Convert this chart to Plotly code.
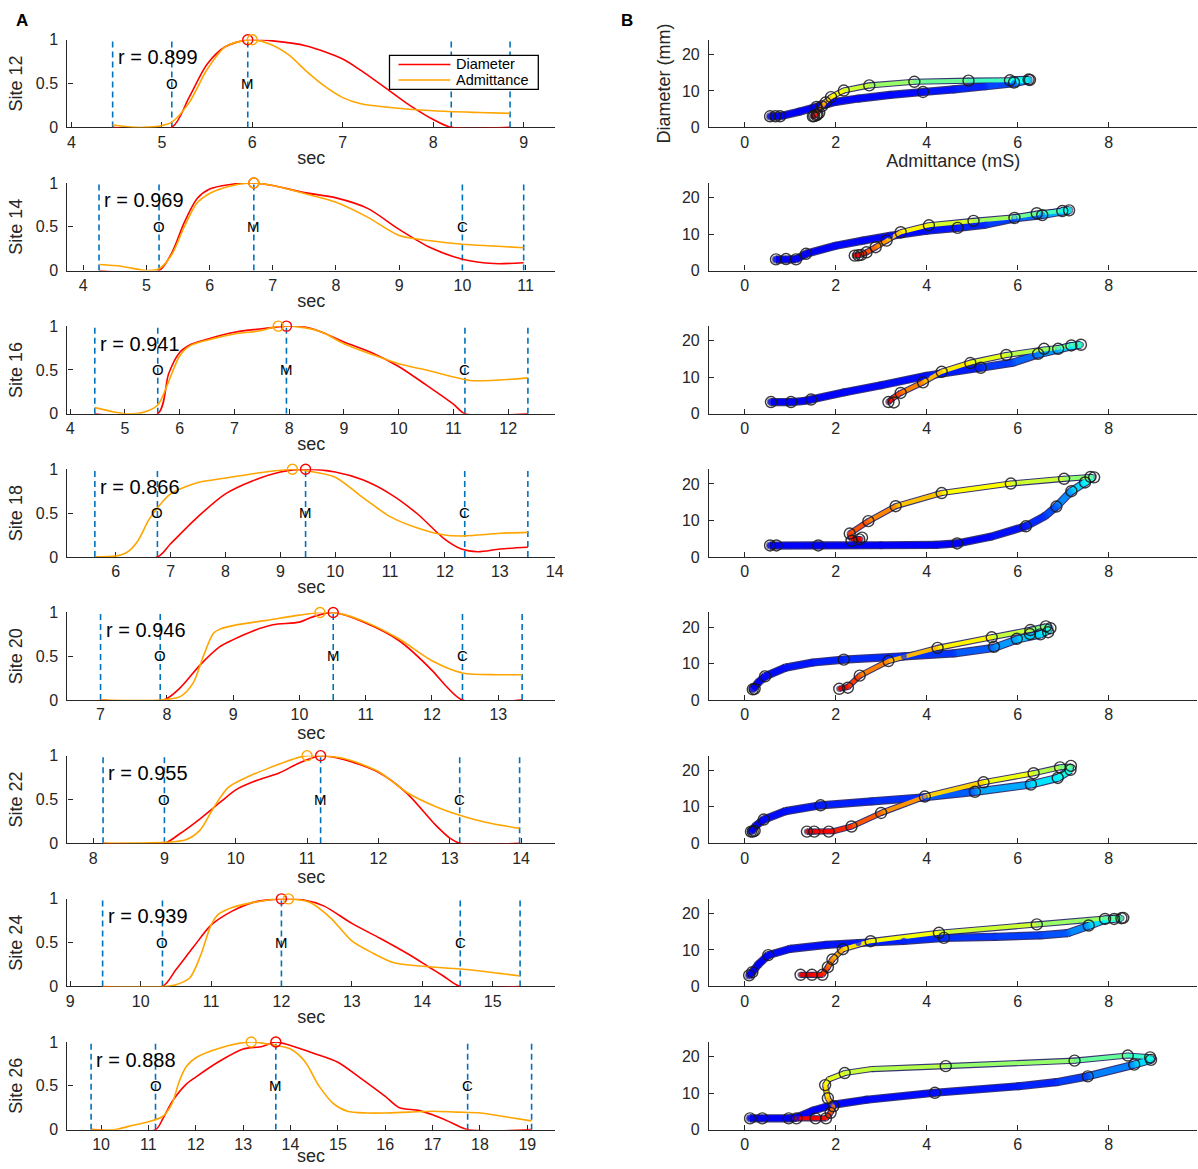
"""Diameter / admittance traces per site (A) and diameter-admittance loops (B)."""

import plotly.graph_objects as go
from plotly.colors import sample_colorscale

# the captured picture is a slightly larger page area squeezed into 1198 x 1169,
# so the figure is a little bigger and positions are mapped through this transform
W, H = 1206, 1186
SHOT_X0, SHOT_KX = 1.0, 0.993
SHOT_Y0, SHOT_KY = 7.5, 0.9865
FONT = "Liberation Sans, Arial, sans-serif"
INK = "#262626"
RED = "#ff0000"
ORANGE = "#ffa500"
EVENT_BLUE = "#0072bd"
JET = [[0.0, "rgb(0,0,143)"], [0.125, "rgb(0,0,255)"], [0.375, "rgb(0,255,255)"],
       [0.625, "rgb(255,255,0)"], [0.875, "rgb(255,0,0)"], [1.0, "rgb(128,0,0)"]]

SITES = [12, 14, 16, 18, 20, 22, 24, 26]
R_VALUES = [0.899, 0.969, 0.941, 0.866, 0.946, 0.955, 0.939, 0.888]

# event markers (sec): start, O, M, C, end
EVENTS = {
    12: [4.456, 5.11, 5.95, 8.20, 8.85],
    14: [4.25, 5.20, 6.70, 10.0, 10.97],
    16: [4.45, 5.60, 7.95, 11.21, 12.36],
    18: [5.62, 6.76, 9.46, 12.36, 13.51],
    20: [7.00, 7.90, 10.51, 12.46, 13.36],
    22: [8.14, 9.00, 11.19, 13.14, 13.98],
    24: [9.46, 10.31, 12.00, 14.54, 15.39],
    26: [9.79, 11.15, 13.69, 17.74, 19.09],
}
EVENT_TAGS = {s: ["", "O", "M", "C", ""] for s in SITES}
EVENT_TAGS[12] = ["", "O", "M", "", ""]  # C sits under the legend

# normalised diameter
DIA_T = {
    12: [4.456, 5.11, 5.3, 5.5, 5.7, 5.95, 6.2, 6.6, 7.0, 7.2, 7.5, 7.7, 8.0, 8.2, 8.85],
    14: [4.25, 5.2, 5.4, 5.6, 5.8, 6.0, 6.3, 6.7, 7.0, 7.5, 8.0, 8.5, 9.0, 9.5, 10.0, 10.5, 10.97],
    16: [4.45, 5.6, 5.8, 6.0, 6.2, 6.5, 7.0, 7.5, 7.95, 8.3, 8.6, 9.0, 9.5, 10.0, 10.5, 11.0, 11.21, 12.36],
    18: [5.62, 6.76, 7.0, 7.5, 8.0, 8.5, 9.0, 9.46, 10.0, 10.5, 11.0, 11.5, 12.0, 12.3, 12.6, 13.0, 13.51],
    20: [7.0, 7.95, 8.2, 8.5, 8.8, 9.0, 9.3, 9.6, 10.0, 10.2, 10.51, 11.0, 11.5, 12.0, 12.2, 12.46, 13.36],
    22: [8.14, 9.0, 9.2, 9.5, 9.8, 10.0, 10.3, 10.6, 10.9, 11.19, 11.5, 12.0, 12.4, 12.8, 13.0, 13.14, 13.98],
    24: [9.46, 10.31, 10.5, 10.75, 11.0, 11.3, 11.6, 12.0, 12.3, 12.6, 13.0, 13.4, 13.8, 14.1, 14.3, 14.54, 15.39],
    26: [9.79, 11.15, 11.3, 11.5, 11.8, 12.0, 12.5, 13.0, 13.4, 13.69, 14.0, 14.5, 15.0, 15.5, 16.0, 16.3,
         16.7, 17.0, 17.4, 17.74, 19.09],
}
DIA_V = {
    12: [0, 0, 0.34, 0.72, 0.92, 1.0, 0.99, 0.93, 0.78, 0.65, 0.43, 0.28, 0.09, 0, 0],
    14: [0, 0, 0.2, 0.55, 0.82, 0.93, 0.98, 1.0, 0.97, 0.89, 0.83, 0.71, 0.47, 0.26, 0.13, 0.08, 0.09],
    16: [0, 0, 0.46, 0.70, 0.79, 0.85, 0.93, 0.97, 1.0, 0.99, 0.93, 0.82, 0.70, 0.54, 0.33, 0.11, 0, 0],
    18: [0, 0, 0.15, 0.46, 0.72, 0.87, 0.97, 1.0, 0.97, 0.88, 0.72, 0.49, 0.20, 0.09, 0.06, 0.09, 0.11],
    20: [0, 0, 0.14, 0.40, 0.61, 0.69, 0.79, 0.86, 0.89, 0.95, 1.0, 0.88, 0.68, 0.34, 0.17, 0, 0],
    22: [0, 0, 0.1, 0.28, 0.48, 0.61, 0.72, 0.80, 0.92, 1.0, 0.96, 0.81, 0.57, 0.21, 0.06, 0, 0],
    24: [0, 0, 0.19, 0.45, 0.70, 0.86, 0.96, 1.0, 0.99, 0.92, 0.72, 0.55, 0.37, 0.22, 0.12, 0, 0],
    26: [0, 0, 0.12, 0.32, 0.52, 0.60, 0.78, 0.92, 0.95, 1.0, 0.96, 0.87, 0.77, 0.58, 0.38, 0.25,
         0.22, 0.17, 0.08, 0, 0],
}

# normalised admittance
ADM_T = {
    12: [4.456, 4.6, 4.8, 5.0, 5.11, 5.3, 5.5, 5.7, 5.9, 6.0, 6.2, 6.4, 6.6, 6.8, 7.0, 7.2, 7.5, 8.0, 8.5, 8.85],
    14: [4.25, 4.6, 5.0, 5.2, 5.4, 5.6, 5.8, 6.0, 6.3, 6.7, 7.0, 7.5, 8.0, 8.5, 9.0, 9.5, 10.0, 10.5, 10.97],
    16: [4.45, 4.8, 5.0, 5.3, 5.6, 5.8, 6.0, 6.2, 6.5, 7.0, 7.5, 7.8, 8.3, 8.6, 9.0, 9.5, 10.0, 10.5,
         11.0, 11.3, 11.7, 12.36],
    18: [5.62, 6.0, 6.2, 6.4, 6.6, 6.76, 7.0, 7.5, 8.0, 8.5, 9.0, 9.22, 9.5, 10.0, 10.5, 11.0, 11.5,
         12.0, 12.36, 13.0, 13.51],
    20: [7.0, 7.9, 8.2, 8.4, 8.55, 8.7, 8.8, 9.0, 9.5, 10.0, 10.31, 10.6, 11.0, 11.5, 12.0, 12.46, 13.0, 13.36],
    22: [8.14, 9.0, 9.3, 9.5, 9.7, 9.9, 10.2, 10.5, 10.8, 11.0, 11.5, 12.0, 12.4, 12.8, 13.14, 13.5, 13.98],
    24: [9.46, 10.31, 10.5, 10.7, 10.85, 11.0, 11.1, 11.3, 11.6, 12.1, 12.4, 12.7, 13.0, 13.3, 13.6,
         14.0, 14.54, 15.0, 15.39],
    26: [9.79, 10.3, 10.6, 11.0, 11.3, 11.5, 11.65, 11.8, 12.0, 12.5, 13.17, 13.7, 14.0, 14.3, 14.6, 14.9,
         15.2, 15.6, 16.0, 16.5, 17.0, 17.5, 18.0, 18.5, 19.09],
}
ADM_V = {
    12: [0.03, 0.01, 0.0, 0.02, 0.06, 0.28, 0.66, 0.92, 0.99, 1.0, 0.95, 0.83, 0.64, 0.47, 0.34, 0.27,
         0.23, 0.19, 0.17, 0.16],
    14: [0.07, 0.05, 0.0, 0.02, 0.18, 0.5, 0.77, 0.88, 0.96, 1.0, 0.97, 0.88, 0.78, 0.61, 0.40, 0.34,
         0.30, 0.28, 0.26],
    16: [0.07, 0.02, 0.0, 0.01, 0.1, 0.37, 0.66, 0.78, 0.84, 0.91, 0.95, 1.0, 0.98, 0.93, 0.80, 0.68,
         0.57, 0.50, 0.42, 0.38, 0.38, 0.41],
    18: [0, 0.01, 0.05, 0.18, 0.42, 0.56, 0.72, 0.85, 0.90, 0.95, 0.99, 1.0, 0.98, 0.91, 0.68, 0.46,
         0.33, 0.25, 0.24, 0.27, 0.28],
    20: [0, 0.0, 0.04, 0.2, 0.5, 0.76, 0.81, 0.85, 0.91, 0.97, 1.0, 0.99, 0.89, 0.70, 0.45, 0.31, 0.29, 0.29],
    22: [0, 0.01, 0.04, 0.15, 0.42, 0.64, 0.77, 0.87, 0.96, 1.0, 0.97, 0.82, 0.58, 0.42, 0.32, 0.24, 0.17],
    24: [0, 0, 0.02, 0.1, 0.35, 0.7, 0.82, 0.9, 0.96, 1.0, 0.96, 0.78, 0.52, 0.38, 0.27, 0.23, 0.20,
         0.16, 0.12],
    26: [0, 0.0, 0.04, 0.09, 0.15, 0.30, 0.55, 0.72, 0.82, 0.93, 1.0, 0.96, 0.92, 0.78, 0.5, 0.3, 0.21,
         0.19, 0.19, 0.2, 0.21, 0.2, 0.19, 0.15, 0.1],
}

# loop path in B: admittance (mS), diameter (mm), colour position (0..1 on jet)
LOOP_ADM = {
    12: [0.56, 0.8, 1.2, 1.58, 2.0, 2.5, 3.2, 3.92, 4.6, 5.3, 5.92, 6.24,
         5.83, 4.92, 3.73, 2.74, 2.18, 1.9, 1.77, 1.68, 1.6, 1.55, 1.5],
    14: [0.69, 1.13, 1.35, 2.0, 2.6, 3.2, 4.0, 4.68, 5.3, 5.93, 6.54, 6.98, 7.13,
         6.96, 6.42, 5.93, 5.03, 4.05, 3.43, 3.12, 2.88, 2.68, 2.54, 2.42],
    16: [0.58, 1.02, 1.3, 1.46, 2.2, 3.0, 4.0, 5.19, 5.9, 6.45, 6.89, 7.18, 7.39,
         7.2, 6.89, 6.58, 5.75, 4.96, 4.33, 3.92, 3.43, 3.25, 3.16],
    18: [0.56, 1.62, 3.0, 4.2, 4.67, 5.4, 6.18, 6.6, 6.85, 7.18, 7.48, 7.65,
         7.6, 7.02, 5.85, 4.33, 3.32, 2.72, 2.31, 2.35, 2.55, 2.5],
    20: [0.18, 0.3, 0.45, 0.9, 1.5, 2.18, 3.5, 4.6, 5.48, 5.98, 6.5, 6.7, 6.72,
         6.62, 6.3, 5.43, 4.24, 3.16, 2.53, 2.27, 2.08],
    22: [0.14, 0.25, 0.42, 0.9, 1.67, 2.8, 3.96, 5.06, 6.29, 6.88, 7.16, 7.17,
         6.93, 6.35, 5.25, 3.96, 3.0, 2.35, 1.95, 1.53, 1.37],
    24: [0.1, 0.17, 0.3, 0.52, 1.0, 1.8, 2.5, 3.5, 4.38, 5.5, 6.5, 7.1, 7.56, 7.92, 8.28,
         7.92, 6.42, 4.27, 2.77, 2.16, 1.93, 1.83, 1.71, 1.48, 1.23],
    26: [0.12, 0.97, 1.14, 1.5, 1.93, 2.68, 4.18, 6.02, 6.85, 7.54, 8.56, 8.93,
         8.91, 8.42, 7.25, 4.42, 2.8, 2.2, 1.85, 1.77, 1.83, 1.95, 1.89, 1.79, 1.56, 1.1],
}
LOOP_DIA = {
    12: [3.0, 3.1, 4.3, 5.6, 7.0, 7.9, 8.9, 9.7, 10.4, 11.3, 12.1, 13.0,
         12.9, 12.8, 12.5, 11.5, 10.1, 8.3, 6.8, 5.4, 4.2, 3.3, 3.05],
    14: [3.0, 3.1, 4.6, 6.8, 8.2, 9.5, 10.9, 11.7, 12.6, 14.3, 15.2, 16.2, 16.5,
         16.3, 15.6, 14.6, 13.6, 12.4, 10.5, 8.2, 6.4, 5.0, 4.3, 4.1],
    16: [3.2, 3.2, 3.5, 3.9, 5.9, 7.8, 10.4, 12.6, 14.0, 16.3, 17.6, 18.5, 18.9,
         18.8, 18.0, 17.6, 16.1, 14.0, 11.5, 8.6, 5.7, 4.2, 3.2],
    18: [3.1, 3.15, 3.2, 3.3, 3.7, 5.5, 8.4, 11.2, 13.8, 18.0, 20.4, 21.9,
         21.9, 21.4, 20.1, 17.5, 13.9, 9.8, 6.4, 5.0, 4.9, 4.5],
    20: [3.0, 4.8, 6.5, 8.9, 10.3, 11.1, 12.0, 12.8, 14.3, 16.6, 18.0, 19.2, 19.8,
         20.2, 19.3, 17.2, 14.3, 10.7, 6.7, 3.6, 3.1],
    22: [3.2, 4.8, 6.5, 8.8, 10.4, 11.5, 12.6, 14.1, 16.1, 17.9, 20.1, 21.0,
         20.8, 19.2, 16.7, 12.8, 8.3, 4.6, 3.3, 3.2, 3.2],
    24: [3.0, 3.9, 6.0, 8.6, 10.3, 11.4, 11.9, 12.5, 13.3, 13.6, 14.0, 14.6, 16.6, 18.3, 18.7,
         18.6, 17.0, 14.7, 12.4, 10.2, 7.4, 5.3, 3.2, 3.2, 3.2],
    26: [3.1, 3.1, 3.3, 5.2, 6.8, 8.2, 10.1, 11.9, 13.0, 14.6, 17.8, 19.1,
         19.8, 20.3, 18.9, 17.4, 16.6, 15.5, 13.8, 12.2, 8.6, 6.4, 4.6, 3.1, 3.1, 3.1],
}
LOOP_COL = {
    12: [0.12, 0.12, 0.12, 0.13, 0.13, 0.13, 0.13, 0.14, 0.15, 0.17, 0.22, 0.35,
         0.42, 0.46, 0.50, 0.55, 0.60, 0.65, 0.70, 0.75, 0.80, 0.86, 0.90],
    14: [0.12, 0.12, 0.12, 0.13, 0.13, 0.13, 0.14, 0.15, 0.17, 0.20, 0.26, 0.33, 0.38,
         0.42, 0.46, 0.50, 0.56, 0.61, 0.66, 0.71, 0.76, 0.81, 0.86, 0.90],
    16: [0.12, 0.12, 0.12, 0.12, 0.13, 0.13, 0.14, 0.16, 0.20, 0.25, 0.30, 0.36, 0.42,
         0.46, 0.50, 0.53, 0.58, 0.62, 0.67, 0.72, 0.78, 0.84, 0.90],
    18: [0.12, 0.12, 0.12, 0.12, 0.12, 0.13, 0.15, 0.18, 0.22, 0.30, 0.38, 0.45,
         0.48, 0.55, 0.60, 0.65, 0.72, 0.77, 0.82, 0.86, 0.88, 0.90],
    20: [0.12, 0.12, 0.13, 0.14, 0.15, 0.16, 0.17, 0.18, 0.25, 0.30, 0.35, 0.40, 0.43,
         0.47, 0.53, 0.60, 0.67, 0.72, 0.78, 0.85, 0.90],
    22: [0.12, 0.12, 0.13, 0.14, 0.15, 0.16, 0.18, 0.25, 0.33, 0.37, 0.42, 0.46,
         0.52, 0.58, 0.64, 0.70, 0.76, 0.82, 0.86, 0.88, 0.90],
    24: [0.12, 0.12, 0.12, 0.13, 0.14, 0.14, 0.15, 0.16, 0.17, 0.18, 0.19, 0.22, 0.30, 0.38, 0.45,
         0.50, 0.55, 0.60, 0.63, 0.68, 0.73, 0.78, 0.85, 0.88, 0.90],
    26: [0.12, 0.12, 0.12, 0.12, 0.13, 0.13, 0.14, 0.15, 0.17, 0.20, 0.30, 0.38,
         0.40, 0.45, 0.50, 0.54, 0.56, 0.58, 0.61, 0.63, 0.68, 0.74, 0.80, 0.86, 0.88, 0.90],
}

# sampled frames drawn as open rings on the loops
RING_ADM = {
    12: [0.56, 0.68, 0.78, 1.5, 1.53, 1.58, 1.6, 1.64, 1.58, 1.7, 1.78, 1.9, 2.18, 2.74, 3.73, 3.92,
         4.92, 5.83, 5.92, 6.24, 6.27],
    14: [0.69, 0.91, 1.13, 1.35, 2.42, 2.5, 2.56, 2.68, 2.88, 3.12, 3.43, 4.05, 4.68, 5.03, 5.93,
         6.42, 6.54, 6.98, 7.13],
    16: [0.58, 1.02, 1.46, 3.16, 3.28, 3.43, 3.92, 4.33, 4.96, 5.19, 5.75, 6.45, 6.58, 6.89, 7.18, 7.39],
    18: [0.56, 0.7, 1.62, 4.67, 6.18, 6.85, 7.18, 7.48, 7.6, 7.68, 7.02, 5.85, 4.33, 3.32, 2.72,
         2.31, 2.35, 2.52, 2.58],
    20: [0.18, 0.22, 0.45, 2.08, 2.27, 2.18, 2.53, 3.16, 4.24, 5.43, 5.48, 5.98, 6.27, 6.28, 6.5,
         6.62, 6.67, 6.72],
    22: [0.14, 0.18, 0.22, 0.42, 1.37, 1.53, 1.85, 1.67, 2.35, 3.0, 3.96, 5.06, 5.25, 6.29, 6.35,
         6.88, 6.93, 7.16, 7.17],
    24: [0.1, 0.17, 0.52, 1.23, 1.48, 1.71, 1.83, 1.93, 2.16, 2.77, 4.27, 4.38, 6.42, 7.56, 7.92,
         8.12, 8.28, 8.32],
    26: [0.12, 0.39, 0.97, 1.14, 1.56, 1.79, 1.89, 1.95, 1.83, 1.77, 2.2, 4.18, 4.42, 7.25, 7.54,
         8.42, 8.56, 8.91, 8.93],
}
RING_DIA = {
    12: [3.05, 3.05, 3.05, 3.05, 3.1, 3.3, 3.6, 4.0, 5.6, 5.8, 6.8, 8.3, 10.1, 11.5, 12.5, 9.7,
         12.8, 12.9, 12.3, 13.1, 13.0],
    14: [3.06, 3.15, 3.06, 4.6, 4.1, 4.2, 4.3, 5.0, 6.4, 8.2, 10.5, 12.4, 11.7, 13.6, 14.4,
         15.7, 15.2, 16.3, 16.5],
    16: [3.2, 3.2, 3.9, 3.2, 3.1, 5.7, 8.6, 11.5, 13.9, 12.6, 16.1, 16.4, 17.8, 17.8, 18.7, 18.9],
    18: [3.15, 3.15, 3.15, 3.7, 8.4, 13.8, 18.0, 20.4, 21.9, 21.8, 21.4, 20.1, 17.5, 13.9, 9.8,
         6.4, 4.4, 4.8, 5.3],
    20: [2.97, 3.05, 6.5, 3.1, 3.4, 11.1, 6.7, 10.7, 14.3, 17.2, 14.6, 16.8, 18.1, 19.2, 18.0,
         20.2, 18.6, 19.7],
    22: [3.2, 3.2, 3.4, 6.5, 3.2, 3.2, 3.2, 10.4, 4.6, 8.3, 12.8, 14.1, 16.7, 16.1, 19.2,
         17.9, 20.8, 20.1, 21.2],
    24: [3.05, 3.9, 8.6, 3.2, 3.2, 3.2, 5.3, 7.4, 10.2, 12.4, 14.7, 13.3, 17.0, 16.7, 18.5,
         18.5, 18.7, 18.8],
    26: [3.1, 3.1, 3.1, 3.1, 3.1, 3.1, 4.6, 6.4, 8.6, 12.2, 15.5, 10.1, 17.4, 18.9, 14.6,
         20.3, 17.8, 19.8, 19.1],
}

# geometry, in pixels of the target picture
ROW_TOP0, ROW_BOT0, ROW_STEP = 39.3, 127.0, 143.3
LEFT_PX = (66.5, 555)
RIGHT_PX = (709, 1198)
ADM_RANGE = [-0.78, 9.95]
DIA_RANGE = [0, 24]


def fx(p):
    return (p - SHOT_X0) / SHOT_KX / W


def fy(p):
    return 1 - (p - SHOT_Y0) / SHOT_KY / H


def jet(c):
    return sample_colorscale(JET, [c])[0]


def base_axis(**extra):
    ax = dict(showline=True, linecolor=INK, linewidth=1.3, ticks="inside", ticklen=5, tickwidth=1.1,
              tickcolor=INK, showgrid=False, zeroline=False, layer="below traces",
              tickfont=dict(family=FONT, size=16, color=INK))
    ax.update(extra)
    return ax


def title(text, standoff):
    return dict(text=text, standoff=standoff, font=dict(family=FONT, size=18, color=INK))


fig = go.Figure()
layout = dict(width=W, height=H, margin=dict(l=0, r=0, t=0, b=0), paper_bgcolor="white",
              plot_bgcolor="white", showlegend=False, font=dict(family=FONT, size=15, color=INK))
annotations = []
shapes = []

for i, site in enumerate(SITES):
    top = ROW_TOP0 + ROW_STEP * i
    bot = ROW_BOT0 + ROW_STEP * i
    ydom = [fy(bot), fy(top)]
    ax_l, ax_r = 2 * i + 1, 2 * i + 2
    xl, yl = f"x{ax_l}", f"y{ax_l}"
    xr, yr = f"x{ax_r}", f"y{ax_r}"
    ev = EVENTS[site]
    last_row = i == len(SITES) - 1

    layout[f"xaxis{ax_l}"] = base_axis(
        domain=[fx(LEFT_PX[0]), fx(LEFT_PX[1])], anchor=yl, range=[ev[0] - 0.5, ev[-1] + 0.5],
        dtick=1, tick0=0, ticklabelstandoff=0, title=None if last_row else title("sec", 1))
    layout[f"yaxis{ax_l}"] = base_axis(
        domain=ydom, anchor=xl, range=[0, 1], tickvals=[0, 0.5, 1], ticktext=["0", "0.5", "1"],
        ticklabelstandoff=5, title=title(f"Site {site}", 8))
    if last_row:
        # bottom "sec" hugs the lower edge; pin it so it stays inside the page
        annotations.append(dict(x=(fx(LEFT_PX[0]) + fx(LEFT_PX[1])) / 2, y=fy(1168), xref="paper",
                                yref="paper", text="sec", showarrow=False, xanchor="center",
                                yanchor="bottom", font=dict(family=FONT, size=18, color=INK)))

    right_x = dict(domain=[fx(RIGHT_PX[0]), min(1.0, fx(RIGHT_PX[1]))], anchor=yr, range=ADM_RANGE,
                   tickvals=[0, 2, 4, 6, 8], ticklabelstandoff=0)
    right_y = dict(domain=ydom, anchor=xr, range=DIA_RANGE, tickvals=[0, 10, 20], ticklabelstandoff=5)
    if i == 0:
        right_x["title"] = title("Admittance (mS)", 1)
        right_y["title"] = title("Diameter (mm)", 6)
    layout[f"xaxis{ax_r}"] = base_axis(**right_x)
    layout[f"yaxis{ax_r}"] = base_axis(**right_y)

    # --- A: event lines, curves, peaks
    ex, ey = [], []
    for t in ev:
        ex += [t, t, None]
        ey += [0, 1, None]
    fig.add_trace(go.Scatter(x=ex, y=ey, mode="lines", xaxis=xl, yaxis=yl, hoverinfo="skip",
                             line=dict(color=EVENT_BLUE, width=1.6, dash="6px,4px")))
    fig.add_trace(go.Scatter(x=DIA_T[site], y=DIA_V[site], mode="lines", xaxis=xl, yaxis=yl,
                             name="Diameter", line=dict(color=RED, width=1.6, shape="spline", smoothing=0.8)))
    fig.add_trace(go.Scatter(x=ADM_T[site], y=ADM_V[site], mode="lines", xaxis=xl, yaxis=yl,
                             name="Admittance",
                             line=dict(color=ORANGE, width=1.6, shape="spline", smoothing=0.8)))
    for ts, vs, col in ((DIA_T[site], DIA_V[site], RED), (ADM_T[site], ADM_V[site], ORANGE)):
        k = max(range(len(vs)), key=lambda j: vs[j])
        fig.add_trace(go.Scatter(x=[ts[k]], y=[vs[k]], mode="markers", xaxis=xl, yaxis=yl,
                                 cliponaxis=False,
                                 marker=dict(symbol="circle-open", size=10, color=col, line=dict(width=1.4))))

    annotations.append(dict(x=ev[0], y=0.80, xref=xl, yref=yl, text=f"r = {R_VALUES[i]:.3f}",
                            showarrow=False, xanchor="left", yanchor="middle", xshift=3,
                            font=dict(family=FONT, size=20, color="#000000")))
    for t, tag in zip(ev, EVENT_TAGS[site]):
        if tag:
            annotations.append(dict(x=t, y=0.505, xref=xl, yref=yl, text=tag, showarrow=False,
                                    xanchor="center", yanchor="middle",
                                    font=dict(family=FONT, size=15, color="#000000")))

    # --- B: loop coloured by its position along the cycle
    xs, ys, cs = LOOP_ADM[site], LOOP_DIA[site], LOOP_COL[site]
    widths = [6 if c < 0.4 else 4 for c in cs]
    for j in range(len(xs) - 1):
        fig.add_trace(go.Scatter(x=xs[j:j + 2], y=ys[j:j + 2], mode="lines", xaxis=xr, yaxis=yr,
                                 hoverinfo="skip",
                                 line=dict(color="rgba(35,30,100,0.9)", width=widths[j] + 2.2)))
    fig.add_trace(go.Scatter(x=xs, y=ys, mode="markers", xaxis=xr, yaxis=yr, hoverinfo="skip",
                             marker=dict(size=[w + 2.2 for w in widths], color="rgba(35,30,100,0.9)",
                                         line=dict(width=0))))
    for j in range(len(xs) - 1):
        fig.add_trace(go.Scatter(x=xs[j:j + 2], y=ys[j:j + 2], mode="lines", xaxis=xr, yaxis=yr,
                                 hoverinfo="skip",
                                 line=dict(color=jet((cs[j] + cs[j + 1]) / 2), width=widths[j])))
    fig.add_trace(go.Scatter(x=xs, y=ys, mode="markers", xaxis=xr, yaxis=yr, hoverinfo="skip",
                             marker=dict(size=widths, color=[jet(c) for c in cs], line=dict(width=0))))
    fig.add_trace(go.Scatter(x=RING_ADM[site], y=RING_DIA[site], mode="markers", xaxis=xr, yaxis=yr,
                             cliponaxis=False,
                             marker=dict(symbol="circle-open", size=11, color="rgba(25,25,25,0.85)",
                                         line=dict(width=1.4))))

# legend box drawn by hand (tight MATLAB-style spacing)
shapes.append(dict(type="rect", xref="paper", yref="paper", x0=fx(389), x1=fx(538),
                   y0=fy(89), y1=fy(55), fillcolor="white",
                   line=dict(color="#000000", width=1.3), layer="above"))
for name, col, yy in (("Diameter", RED, 64), ("Admittance", ORANGE, 79.5)):
    shapes.append(dict(type="line", xref="paper", yref="paper", x0=fx(398), x1=fx(450),
                       y0=fy(yy), y1=fy(yy), line=dict(color=col, width=1.6), layer="above"))
    annotations.append(dict(x=fx(454), y=fy(yy), xref="paper", yref="paper", text=name,
                            showarrow=False, xanchor="left", yanchor="middle",
                            font=dict(family=FONT, size=14.5, color="#000000")))

for label, px in (("A", 21), ("B", 627)):
    annotations.append(dict(x=fx(px), y=fy(20), xref="paper", yref="paper", text=f"<b>{label}</b>",
                            showarrow=False, xanchor="center", yanchor="middle",
                            font=dict(family=FONT, size=17, color="#000000")))

layout["annotations"] = annotations
layout["shapes"] = shapes
fig.update_layout(**layout)
# drop the page's default body margin so the figure starts at the window corner
fig.write_html("out.html", config={"displayModeBar": False},
               post_script="document.body.style.margin = '0';")
